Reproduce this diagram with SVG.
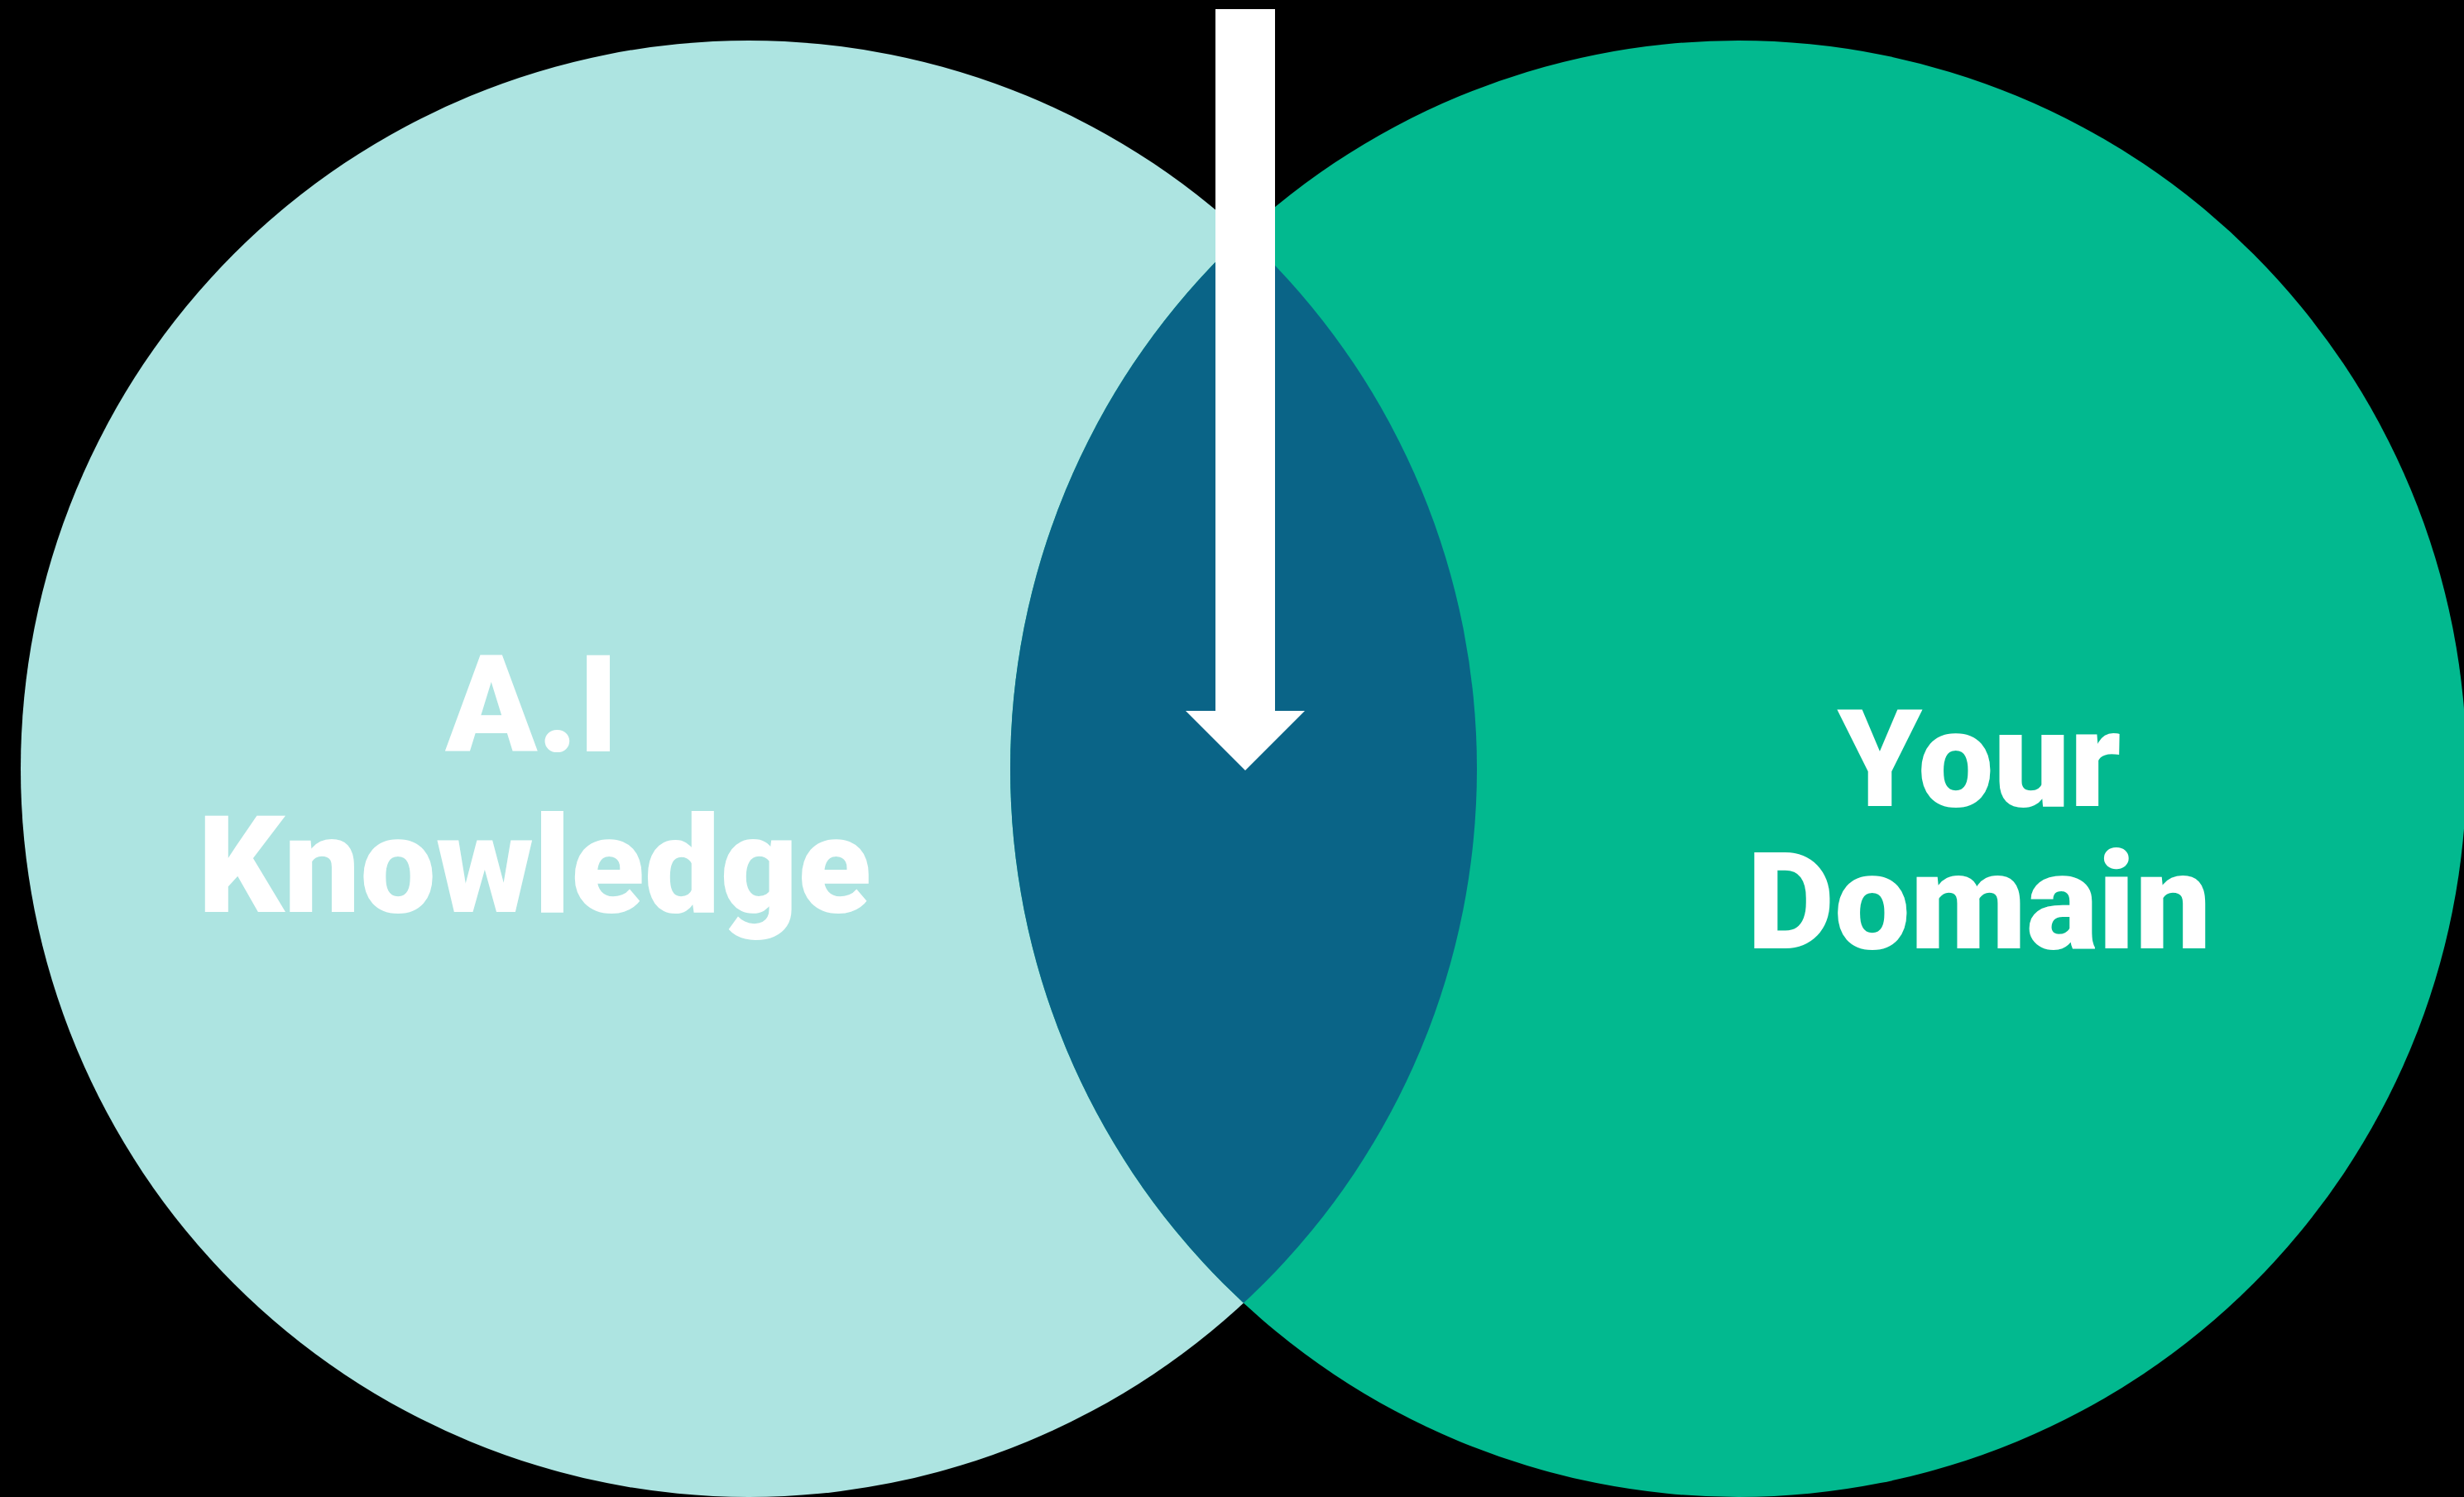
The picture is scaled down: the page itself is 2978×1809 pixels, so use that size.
<svg xmlns="http://www.w3.org/2000/svg" width="2978" height="1809" viewBox="0 0 2978 1809">
  <defs>
    <style>
      .label { font-family: Roboto, Inter, "Liberation Sans", sans-serif; font-weight: 900; font-size: 163px; fill: #ffffff; text-anchor: middle; }
    </style>
    <clipPath id="clip-ai">
      <circle cx="905" cy="929" r="880"/>
    </clipPath>
  </defs>

  <!-- background -->
  <rect x="0" y="0" width="2978" height="1809" fill="#000000"/>

  <!-- left set -->
  <g id="node-ai-knowledge">
    <circle cx="905" cy="929" r="880" fill="#ADE4E1"/>
  </g>

  <!-- right set -->
  <g id="node-your-domain">
    <circle cx="2101" cy="929" r="880" fill="#02B98F"/>
  </g>

  <!-- overlap of both sets -->
  <g id="node-overlap">
    <circle cx="2101" cy="929" r="880" fill="#0A6487" clip-path="url(#clip-ai)"/>
  </g>

  <!-- labels -->
  <g id="labels">
    <text class="label" x="643" y="908">A.I</text>
    <text class="label" x="646" y="1102">Knowledge</text>
    <text class="label" x="2392" y="974">Your</text>
    <text class="label" x="2392" y="1146">Domain</text>
  </g>

  <!-- arrow pointing down into the overlap -->
  <g id="connectors">
    <polygon points="1469,11 1541,11 1541,859 1577,859 1505,931 1433,859 1469,859" fill="#ffffff"/>
  </g>
</svg>
